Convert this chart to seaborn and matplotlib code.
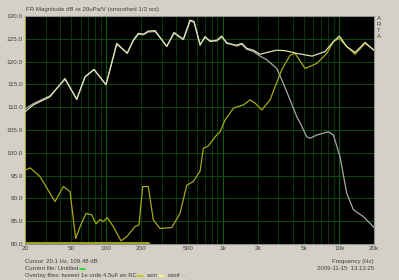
import matplotlib
matplotlib.use("Agg")
import matplotlib.pyplot as plt
import seaborn as sns
import pandas as pd
from matplotlib.lines import Line2D

# ---- data ----
som_freq = [20, 23.6, 32.8, 44.1, 55.6, 65.6, 78.3, 99.3, 122.7, 151, 170, 188, 208, 229, 262,
            330, 381, 458, 523, 566, 638, 704, 776, 887, 979, 1081, 1318, 1455, 1607, 1830,
            2090, 2386, 2906, 3427, 4320, 5850, 7550, 8910, 10020, 11600, 13680, 16680, 19640, 20000]
som_db = [109.0, 110.5, 112.3, 116.3, 111.7, 116.7, 118.3, 114.9, 124.0, 121.8, 124.7, 126.2, 126.0, 126.7, 126.8,
          123.3, 126.4, 124.9, 129.1, 128.8, 123.6, 125.5, 124.4, 124.7, 125.6, 124.0, 123.6, 124.0, 122.9, 122.5,
          121.6, 122.0, 122.5, 122.4, 121.8, 121.2, 122.2, 124.4, 125.6, 123.3, 122.0, 124.2, 122.6, 122.4]

woof_freq = [20, 23.6, 32.8, 44.1, 55.6, 65.6, 78.3, 99.3, 122.7, 151, 170, 188, 208, 229, 262,
             330, 381, 458, 523, 566, 638, 704, 776, 887, 979, 1081, 1318, 1455, 1607, 1830,
             2090, 2386, 2906, 3312, 3782, 4320, 4608, 5260, 5617, 6410, 7306, 8072, 8910, 10160,
             11600, 13230, 16120, 19640, 20000]
woof_db = [109.6, 110.8, 112.5, 116.1, 111.8, 116.6, 118.2, 115.0, 123.8, 121.9, 124.5, 126.0, 125.9, 126.5, 126.6,
           123.4, 126.2, 124.8, 128.9, 128.6, 123.8, 125.3, 124.6, 124.5, 125.4, 124.2, 123.4, 123.8, 122.7, 122.2,
           121.2, 120.4, 118.5, 115.2, 111.6, 107.9, 106.6, 103.5, 103.2, 103.9, 104.3, 104.6, 103.9, 99.1,
           91.1, 87.5, 86.0, 83.8, 83.5]

tw_freq = [20, 22.1, 26.9, 36.2, 42.7, 48.7, 54.5, 59.4, 66.8, 74.8, 81.5, 88.2, 94.1, 101.9, 114.7,
           133.6, 149.5, 176, 190.6, 205, 229, 253, 289, 364, 429, 490, 558, 638, 681, 751, 858,
           947, 1046, 1233, 1502, 1714, 1892, 2160, 2548, 2812, 3208, 3782, 4174, 5088, 6410, 7816,
           8910, 10020, 11600, 13680, 16680, 20000]
tw_db = [96.2, 96.7, 94.8, 89.3, 92.6, 91.5, 81.2, 83.8, 86.7, 86.4, 84.4, 85.4, 84.9, 85.8, 83.8,
         80.7, 81.6, 83.8, 84.2, 92.6, 92.6, 85.3, 83.4, 83.6, 86.7, 92.9, 93.7, 96.0, 101.0, 101.5, 103.5,
         104.6, 107.2, 109.8, 110.5, 111.6, 110.9, 109.4, 111.6, 114.5, 118.2, 121.4, 121.8, 118.5, 119.6, 121.8,
         124.4, 125.1, 123.3, 121.6, 124.0, 122.5]

base_freq = [20, 228]
base_db = [80.3, 80.3]

x_ticks = [20, 50, 100, 200, 500, 1000, 2000, 5000, 10000, 20000]
x_labels = ["20", "50", "100", "200", "500", "1k", "2k", "5k", "10k", "20k"]
y_ticks = [80, 85, 90, 95, 100, 105, 110, 115, 120, 125, 130]
y_labels = [f"{v:.1f}" for v in y_ticks]

# ---- style ----
sns.set_theme(style="dark")
plt.rcParams['font.family'] = ['Liberation Sans', 'DejaVu Sans']
BG = "#d4d0c8"
TXT = "#404040"
C_TW = "#a8a818"
C_SOM = "#e0e0b0"
C_WOOF = "#a8a8a8"

fig = plt.figure(figsize=(3.99, 2.80), dpi=100, facecolor=BG)
W, H = 399, 280
ax = fig.add_axes([25 / W, 1 - 244 / H, (374.3 - 25) / W, (244 - 16) / H])
ax.set_facecolor("black")

ax.set_xscale("log")
ax.set_xlim(20, 20000)
ax.set_ylim(80, 130)

# grid
for v in [30, 40, 50, 60, 70, 80, 90] + [f * 100 for f in range(2, 10)] + [f * 1000 for f in range(2, 10)]:
    ax.axvline(v, color="#093609", lw=0.7, zorder=0)
for v in [100, 1000, 10000]:
    ax.axvline(v, color="#0e5a0e", lw=0.8, zorder=0)
for v in y_ticks[1:-1]:
    ax.axhline(v, color="#0b4a0b", lw=0.7, zorder=0)

df_tw = pd.DataFrame({"f": tw_freq, "db": tw_db})
df_som = pd.DataFrame({"f": som_freq, "db": som_db})
df_woof = pd.DataFrame({"f": woof_freq, "db": woof_db})
df_base = pd.DataFrame({"f": base_freq, "db": base_db})

sns.lineplot(data=df_base, x="f", y="db", ax=ax, color="#a0a020", lw=2.2, sort=False, zorder=3)
sns.lineplot(data=df_woof, x="f", y="db", ax=ax, color=C_WOOF, lw=0.9, sort=False, zorder=4)
sns.lineplot(data=df_tw, x="f", y="db", ax=ax, color=C_TW, lw=0.9, sort=False, zorder=5)
sns.lineplot(data=df_som, x="f", y="db", ax=ax, color=C_SOM, lw=0.9, sort=False, zorder=6)

ax.set_xlabel("")
ax.set_ylabel("")
ax.set_xticks(x_ticks)
ax.set_xticklabels(x_labels)
ax.minorticks_off()
ax.set_yticks(y_ticks)
ax.set_yticklabels(y_labels)
ax.tick_params(axis="both", length=0, labelsize=4.6, colors=TXT, pad=1.5)
ax.grid(False)
for s in ax.spines.values():
    s.set_visible(True)
    s.set_color("#909090")
    s.set_linewidth(0.8)
ax.spines["left"].set_color("#a0a020")

def fx(px):
    return px / W

def fy(py):
    return 1 - py / H

fs = 4.3
fig.text(fx(26), fy(10), "FR Magnitude dB re 20uPa/V (smoothed 1/3 oct)", fontsize=4.4, color=TXT, va="center", ha="left")
for i, ch in enumerate("ARTA"):
    fig.text(fx(379), fy(19 + 6 * i), ch, fontsize=fs, color=TXT, va="center", ha="center")

fig.text(fx(25), fy(261), "Cursor: 20.1 Hz, 109.48 dB", fontsize=fs, color=TXT, va="center", ha="left")
fig.text(fx(374), fy(261), "Frequency (Hz)", fontsize=fs, color=TXT, va="center", ha="right")
fig.text(fx(374), fy(268.5), "2009-11-15  13:13:25", fontsize=fs, color=TXT, va="center", ha="right")

renderer = fig.canvas.get_renderer()

def swatch(x0, y, c):
    fig.add_artist(Line2D([fx(x0), fx(x0 + 5)], [fy(y), fy(y)], color=c, lw=1.3, transform=fig.transFigure))
    return x0 + 5

def text_then(x0, y, s):
    t = fig.text(fx(x0), fy(y), s, fontsize=fs, color=TXT, va="center", ha="left")
    bb = t.get_window_extent(renderer=renderer)
    return bb.x1

xe = text_then(25, 268.5, "Current file: Untitled")
swatch(xe + 1, 268.5, "#20e020")

y3 = 275.5
xe = text_then(25, y3, "Overlay files: tweeet 1e orde 4.5uF en RC")
xe = swatch(xe + 1.5, y3, "#c8c800")
xe = text_then(xe + 3, y3, "som")
xe = swatch(xe + 1.5, y3, "#ffff70")
xe = text_then(xe + 3, y3, "woof")
swatch(xe + 1.5, y3, "#c8c8c8")

fig.savefig("out.png", dpi=100, facecolor=BG)
